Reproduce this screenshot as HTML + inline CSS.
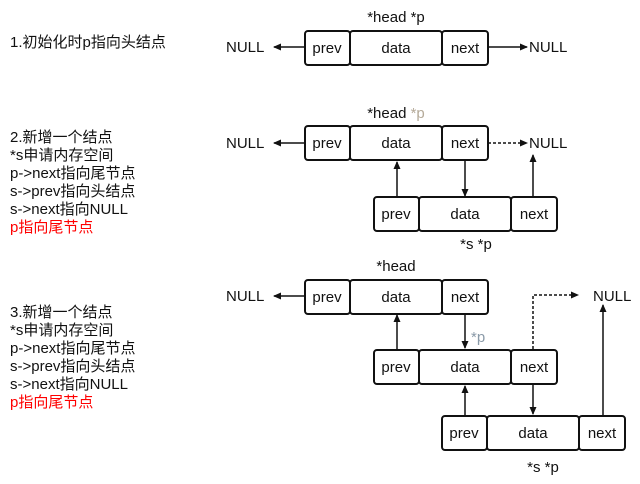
<!DOCTYPE html>
<html><head><meta charset="utf-8"><style>
html,body{margin:0;padding:0;background:#fff;}
svg{display:block;}
text{font-family:"Liberation Sans","Noto Sans CJK SC",sans-serif;font-size:15px;fill:#111;}
.c{text-anchor:middle;}
.b{fill:#fff;stroke:#111;stroke-width:2;}
.l{stroke:#111;stroke-width:1.5;fill:none;}
.d{stroke:#111;stroke-width:1.5;fill:none;stroke-dasharray:3,2;}
</style></head><body>
<svg width="640" height="484" viewBox="0 0 640 484" xmlns="http://www.w3.org/2000/svg">
<defs>
<marker id="a" markerWidth="8" markerHeight="8" refX="7" refY="4" orient="auto" markerUnits="userSpaceOnUse"><path d="M0,0.5 L8,4 L0,7.5 z" fill="#111"/></marker>
</defs>
<text x="10" y="47">1.初始化时p指向头结点</text>
<text x="10" y="142">2.新增一个结点</text>
<text x="10" y="160">*s申请内存空间</text>
<text x="10" y="178">p-&gt;next指向尾节点</text>
<text x="10" y="196">s-&gt;prev指向头结点</text>
<text x="10" y="214">s-&gt;next指向NULL</text>
<text x="10" y="232" style="fill:#f00">p指向尾节点</text>
<text x="10" y="317">3.新增一个结点</text>
<text x="10" y="335">*s申请内存空间</text>
<text x="10" y="353">p-&gt;next指向尾节点</text>
<text x="10" y="371">s-&gt;prev指向头结点</text>
<text x="10" y="389">s-&gt;next指向NULL</text>
<text x="10" y="407" style="fill:#f00">p指向尾节点</text>

<g id="n1">
<rect class="b" x="305" y="31" width="45" height="34" rx="3"/>
<rect class="b" x="350" y="31" width="92" height="34" rx="3"/>
<rect class="b" x="442" y="31" width="46" height="34" rx="3"/>
<text class="c" x="327" y="53">prev</text><text class="c" x="396" y="53">data</text><text class="c" x="465" y="53">next</text>
</g>
<text class="c" x="396" y="22">*head *p</text>
<text x="226" y="52">NULL</text><text x="529" y="52">NULL</text>
<line class="l" x1="305" y1="47" x2="274" y2="47" marker-end="url(#a)"/>
<line class="l" x1="488" y1="47" x2="527" y2="47" marker-end="url(#a)"/>

<use href="#n1" y="95"/>
<text class="c" x="396" y="118">*head <tspan style="fill:#b5aa99">*p</tspan></text>
<text x="226" y="148">NULL</text><text x="529" y="148">NULL</text>
<line class="l" x1="305" y1="143" x2="274" y2="143" marker-end="url(#a)"/>
<line class="d" x1="488" y1="143" x2="527" y2="143" marker-end="url(#a)"/>
<use href="#n1" x="69" y="166"/>
<line class="l" x1="397" y1="197" x2="397" y2="162" marker-end="url(#a)"/>
<line class="l" x1="465" y1="161" x2="465" y2="196" marker-end="url(#a)"/>
<line class="l" x1="533" y1="197" x2="533" y2="155" marker-end="url(#a)"/>
<text class="c" x="476" y="249">*s *p</text>

<use href="#n1" y="249"/>
<text class="c" x="396" y="271">*head</text>
<text x="226" y="301">NULL</text><text x="593" y="301">NULL</text>
<line class="l" x1="305" y1="296" x2="274" y2="296" marker-end="url(#a)"/>
<use href="#n1" x="69" y="319"/>
<use href="#n1" x="137" y="385"/>
<line class="l" x1="397" y1="349" x2="397" y2="315" marker-end="url(#a)"/>
<line class="l" x1="465" y1="314" x2="465" y2="348" marker-end="url(#a)"/>
<text x="471" y="342" style="fill:#8a9aa8">*p</text>
<polyline class="d" points="533,349 533,295 578,295" marker-end="url(#a)"/>
<line class="l" x1="465" y1="415" x2="465" y2="386" marker-end="url(#a)"/>
<line class="l" x1="533" y1="385" x2="533" y2="414" marker-end="url(#a)"/>
<line class="l" x1="603" y1="415" x2="603" y2="305" marker-end="url(#a)"/>
<text class="c" x="543" y="472">*s *p</text>
</svg>
</body></html>
